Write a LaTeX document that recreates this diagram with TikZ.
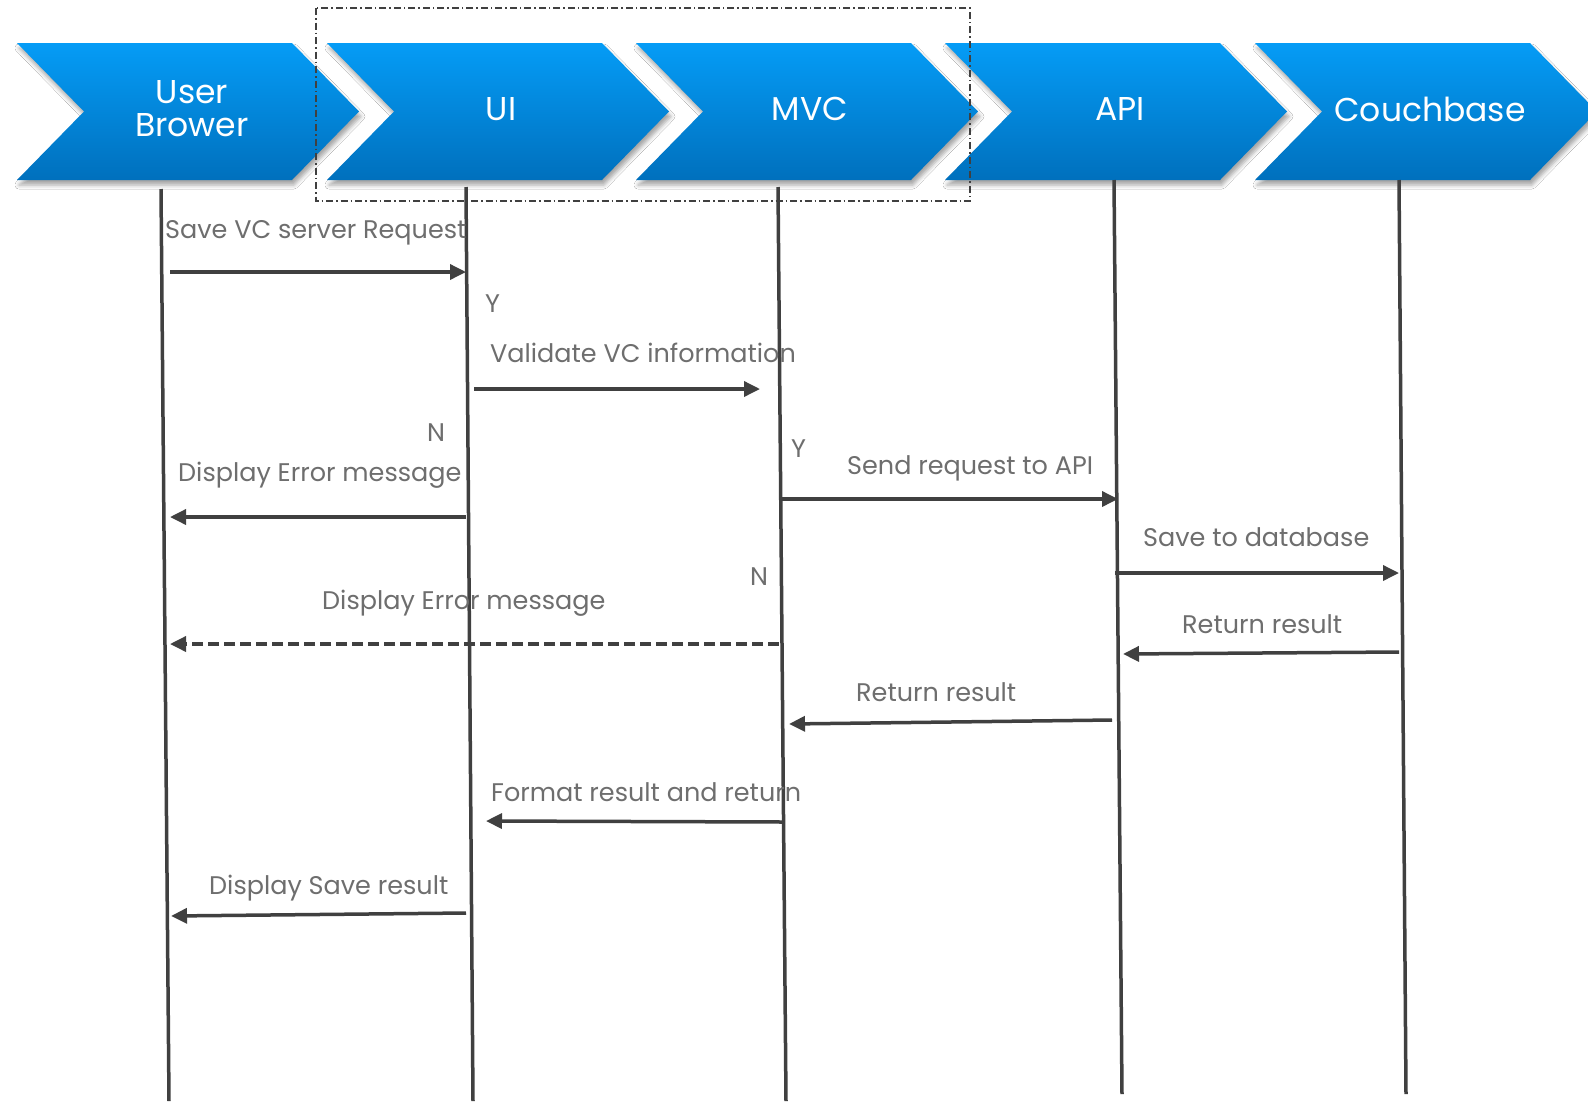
\documentclass[tikz,border=0pt]{standalone}
\usepackage{fontspec}
\setmainfont{Poppins}
\usetikzlibrary{arrows.meta,shadows.blur}
\definecolor{linegray}{HTML}{404040}
\definecolor{txtgray}{HTML}{6E6E6E}
\definecolor{chevtop}{HTML}{059CF6}
\definecolor{chevbot}{HTML}{0070BD}
\tikzset{
  chevron/.style={top color=chevtop, bottom color=chevbot, draw=none,
    blur shadow={shadow xshift=2pt, shadow yshift=-5pt, shadow blur radius=4pt, shadow opacity=35}},
  chevtext/.style={text=white, font=\fontsize{33}{33}\selectfont, align=center, inner sep=0pt},
  lifeline/.style={draw=linegray, line width=3.5pt},
  msg/.style={draw=linegray, line width=3.5pt, -{Triangle[length=16pt,width=15pt]}},
  dmsg/.style={msg, dash pattern=on 11pt off 5pt},
  lbl/.style={text=txtgray, font=\fontsize{25.5}{27}\selectfont, anchor=base west, inner sep=0pt, yshift=-9pt},
  groupbox/.style={draw=linegray, line width=1.3pt, dash pattern=on 7pt off 3pt on 1.5pt off 3pt}
}
\newcommand{\chevshape}[1]{(#1,43) -- ++(275,0) -- ++(67,68.5) -- ++(-67,68.5) -- ++(-275,0) -- ++(67,-68.5) -- cycle}
\begin{document}
\begin{tikzpicture}[x=1pt,y=-1pt]
\useasboundingbox[fill=white] (0,0) rectangle (1588,1101);
% chevrons
\path[chevron] \chevshape{17};
\path[chevron] \chevshape{327};
\path[chevron] \chevshape{636};
\path[chevron] \chevshape{945};
\path[chevron] \chevshape{1255};
\node[chevtext] (hub) at (192,109) {User\\Brower};
\node[chevtext] (hui) at (501,109) {UI};
\node[chevtext] (hmvc) at (810,109) {MVC};
\node[chevtext] (hapi) at (1120,109) {API};
\node[chevtext] (hcb) at (1430,109) {Couchbase};
% group box
\draw[groupbox] (316,8) rectangle (970,201);
% lifelines
\coordinate (ubT) at (161,189); \coordinate (ubB) at (169,1101);
\coordinate (uiT) at (466,187); \coordinate (uiB) at (473,1101);
\coordinate (mvT) at (778,187); \coordinate (mvB) at (786,1101);
\coordinate (apT) at (1114,180); \coordinate (apB) at (1122,1094);
\coordinate (cbT) at (1399,180); \coordinate (cbB) at (1406,1094);
\draw[lifeline] (ubT) -- (ubB);
\draw[lifeline] (uiT) -- (uiB);
\draw[lifeline] (mvT) -- (mvB);
\draw[lifeline] (apT) -- (apB);
\draw[lifeline] (cbT) -- (cbB);
% message end points
\coordinate (m1a) at (170,272);  \coordinate (m1b) at (466,272);
\coordinate (m2a) at (474,389);  \coordinate (m2b) at (760,389);
\coordinate (m3a) at (466,517);  \coordinate (m3b) at (170,517);
\coordinate (m4a) at (782,499);  \coordinate (m4b) at (1118,499);
\coordinate (m5a) at (1115,573); \coordinate (m5b) at (1399,573);
\coordinate (m6a) at (779,644);  \coordinate (m6b) at (170,644);
\coordinate (m7a) at (1399,652); \coordinate (m7b) at (1123,654);
\coordinate (m8a) at (1112,720); \coordinate (m8b) at (789,724);
\coordinate (m9a) at (783,822);  \coordinate (m9b) at (486,821);
\coordinate (m10a) at (466,913); \coordinate (m10b) at (171,916);
\draw[msg] (m1a) -- (m1b);
\draw[msg] (m2a) -- (m2b);
\draw[msg] (m3a) -- (m3b);
\draw[msg] (m4a) -- (m4b);
\draw[msg] (m5a) -- (m5b);
\draw[dmsg] (m6a) -- (m6b);
\draw[msg] (m7a) -- (m7b);
\draw[msg] (m8a) -- (m8b);
\draw[msg] (m9a) -- (m9b);
\draw[msg] (m10a) -- (m10b);
% labels
\node[lbl] (t1) at (165,229) {Save VC server Request};
\node[lbl] (y1) at (485,303) {Y};
\node[lbl] (t2) at (490,353) {Validate VC information};
\node[lbl] (n1) at (427,432) {N};
\node[lbl] (t3) at (178,472) {Display Error message};
\node[lbl] (y2) at (791,448) {Y};
\node[lbl] (t4) at (847,465) {Send request to API};
\node[lbl] (t5) at (1143,537) {Save to database};
\node[lbl] (n2) at (750,576) {N};
\node[lbl] (t6) at (322,600) {Display Error message};
\node[lbl] (t7) at (1182,624) {Return result};
\node[lbl] (t8) at (856,692) {Return result};
\node[lbl] (t9) at (491,792) {Format result and return};
\node[lbl] (t10) at (209,885) {Display Save result};
\end{tikzpicture}
\end{document}
